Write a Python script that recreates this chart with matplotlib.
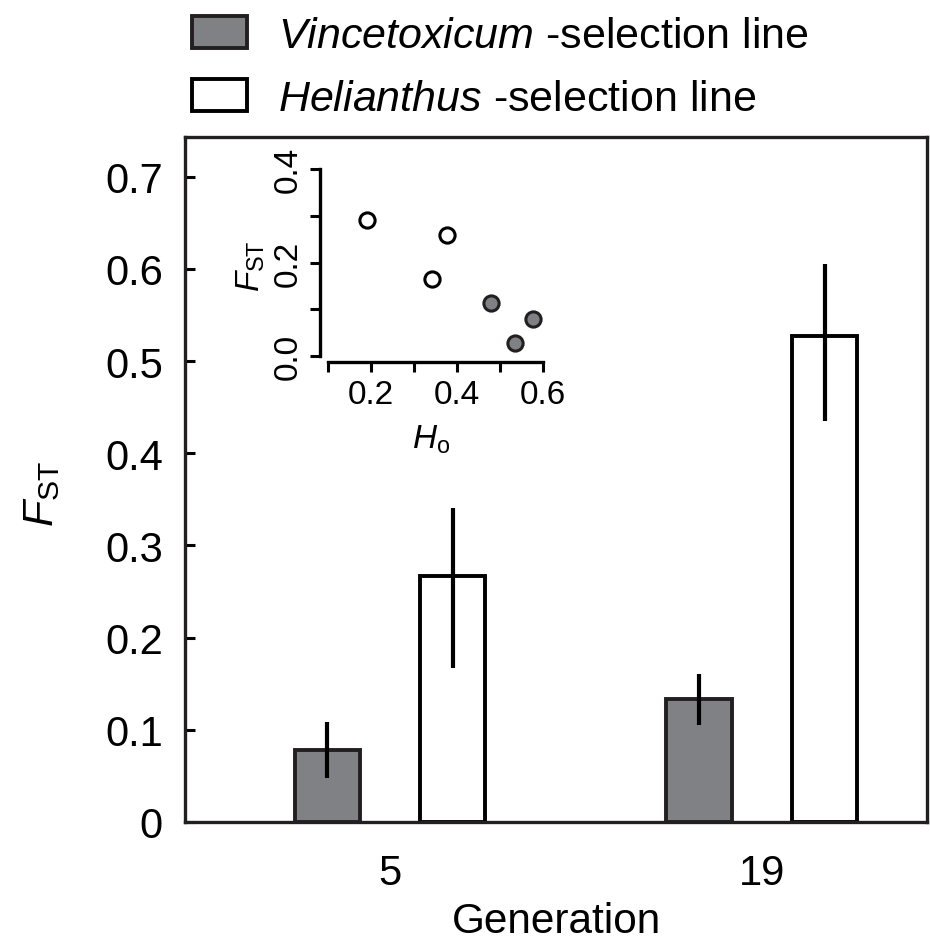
import numpy as np
import matplotlib
matplotlib.use('Agg')
import matplotlib.pyplot as plt

plt.rcParams['font.family'] = ['Liberation Sans', 'DejaVu Sans']
plt.rcParams['mathtext.fontset'] = 'custom'
plt.rcParams['mathtext.rm'] = 'Liberation Sans'
plt.rcParams['mathtext.it'] = 'Liberation Sans:italic'

# main bar chart data
generations = ['5', '19']
vinc_fst = [0.078, 0.133]
vinc_low = [0.048, 0.105]
vinc_high = [0.108, 0.160]
heli_fst = [0.267, 0.527]
heli_low = [0.167, 0.435]
heli_high = [0.341, 0.605]
yticks = [0, 0.1, 0.2, 0.3, 0.4, 0.5, 0.6, 0.7]
yticklabels = ['0', '0.1', '0.2', '0.3', '0.4', '0.5', '0.6', '0.7']

# inset scatter data (Ho vs Fst)
ho_heli = [0.19, 0.377, 0.342]
fst_heli = [0.291, 0.259, 0.164]
ho_vinc = [0.48, 0.577, 0.534]
fst_vinc = [0.113, 0.080, 0.027]

grey = '#808184'
dark = '#231f20'

fig = plt.figure(figsize=(9.3, 9.45), dpi=100)
ax = fig.add_axes([185 / 930, 1 - 823 / 945, 742 / 930, 685 / 945])

x = np.arange(len(generations))
off = 0.169
w = 0.175
ax.bar(x - off, vinc_fst, w, color=grey, edgecolor=dark, linewidth=2.8,
       label=r'$\mathit{Vincetoxicum}$ -selection line', zorder=2)
ax.bar(x + off, heli_fst, w, color='white', edgecolor='black', linewidth=2.8,
       label=r'$\mathit{Helianthus}$ -selection line', zorder=2)

v = np.array(vinc_fst)
h = np.array(heli_fst)
ax.errorbar(x - off, v, yerr=[v - np.array(vinc_low), np.array(vinc_high) - v],
            fmt='none', ecolor='black', elinewidth=3, capsize=0, zorder=3)
ax.errorbar(x + off, h, yerr=[h - np.array(heli_low), np.array(heli_high) - h],
            fmt='none', ecolor='black', elinewidth=3, capsize=0, zorder=3)

ax.set_xlim(-0.551, 1.444)
ax.set_ylim(0, 0.743)
ax.set_yticks(yticks)
ax.set_yticklabels(yticklabels)
ax.set_xticks(x)
ax.set_xticklabels(generations)
ax.tick_params(axis='y', direction='in', length=7, width=2.2, labelsize=30, pad=16)
ax.tick_params(axis='x', length=0, labelsize=30, pad=22)
for s in ax.spines.values():
    s.set_linewidth(2.4)
    s.set_color(dark)
ax.set_xlabel('Generation', fontsize=30.5, labelpad=6)
ax.set_ylabel(r'$F_{\mathrm{ST}}$', fontsize=31)
ax.yaxis.set_label_coords(-0.165, 0.48)

fig.legend(loc='upper left', bbox_to_anchor=(183 / 930, 1 - 8 / 945),
           frameon=False, fontsize=31, handlelength=1.28, handleheight=0.77,
           handletextpad=0.72, labelspacing=0.55, borderpad=0.2, borderaxespad=0)

# inset
ins = fig.add_axes([320 / 930, 1 - 363 / 945, 223 / 930, 193 / 945])
ins.scatter(ho_heli, fst_heli, s=120, facecolor='white', edgecolor='black',
            linewidth=2.2, zorder=3, clip_on=False)
ins.scatter(ho_vinc, fst_vinc, s=120, facecolor=grey, edgecolor=dark,
            linewidth=2.2, zorder=3, clip_on=False)
ins.set_xlim(0.0814, 0.6)
ins.set_ylim(-0.0128, 0.4)
ins.spines['top'].set_visible(False)
ins.spines['right'].set_visible(False)
ins.spines['left'].set_bounds(0, 0.4)
ins.spines['bottom'].set_bounds(0.1, 0.6)
for s in ['left', 'bottom']:
    ins.spines[s].set_linewidth(2.4)
ins.patch.set_alpha(0)
ins.set_xticks([0.1, 0.2, 0.3, 0.4, 0.5, 0.6])
ins.set_xticklabels(['', '0.2', '', '0.4', '', '0.6'])
ins.set_yticks([0, 0.1, 0.2, 0.3, 0.4])
ins.set_yticklabels(['0.0', '', '0.2', '', '0.4'], rotation=90, va='center')
ins.tick_params(direction='out', length=7, width=2.2, labelsize=24, pad=5)
ins.set_xlabel(r'$H_{\mathrm{o}}$', fontsize=24, labelpad=9)
ins.set_ylabel(r'$F_{\mathrm{ST}}$', fontsize=24, labelpad=4)

fig.savefig('out.png', dpi=100)
